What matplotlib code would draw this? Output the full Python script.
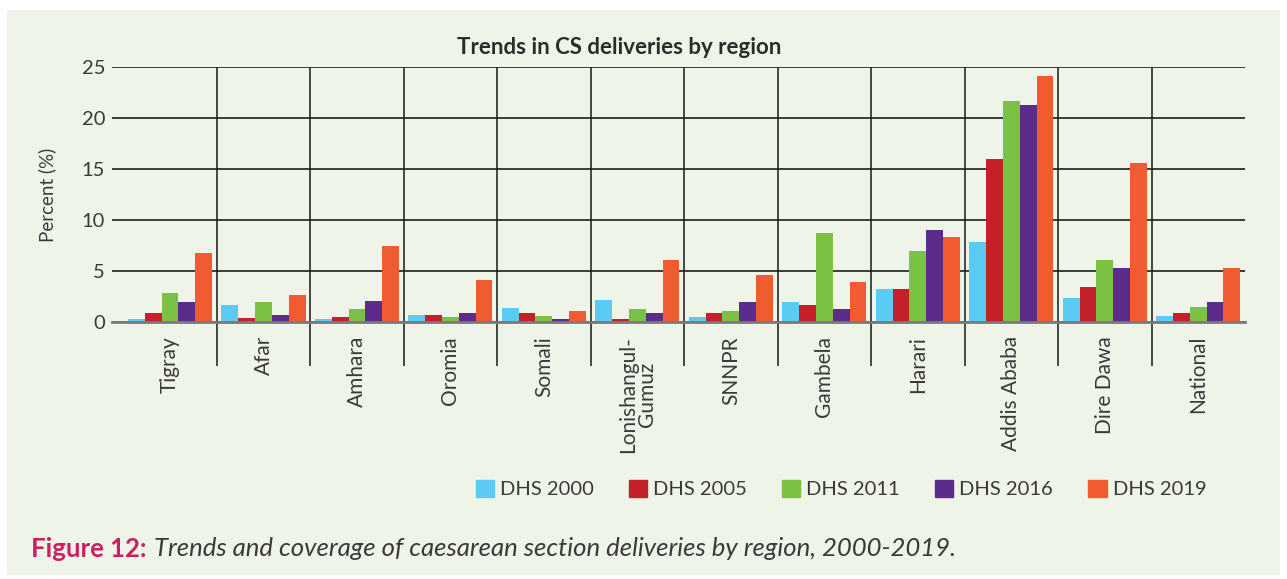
import numpy as np
import matplotlib
matplotlib.use('Agg')
from matplotlib import pyplot as plt
from matplotlib import patches as mpatches

regions = ['Tigray', 'Afar', 'Amhara', 'Oromia', 'Somali', 'Lonishangul-\nGumuz',
           'SNNPR', 'Gambela', 'Harari', 'Addis Ababa', 'Dire Dawa', 'National']
surveys = ['DHS 2000', 'DHS 2005', 'DHS 2011', 'DHS 2016', 'DHS 2019']
dhs_2000 = [0.3, 1.7, 0.3, 0.7, 1.4, 2.2, 0.5, 2.0, 3.2, 7.8, 2.4, 0.6]
dhs_2005 = [0.9, 0.4, 0.5, 0.7, 0.9, 0.3, 0.9, 1.7, 3.2, 16.0, 3.4, 0.9]
dhs_2011 = [2.8, 2.0, 1.3, 0.5, 0.6, 1.3, 1.1, 8.7, 7.0, 21.7, 6.1, 1.5]
dhs_2016 = [2.0, 0.7, 2.1, 0.9, 0.3, 0.9, 2.0, 1.3, 9.0, 21.3, 5.3, 2.0]
dhs_2019 = [6.8, 2.6, 7.5, 4.1, 1.1, 6.1, 4.6, 3.9, 8.3, 24.1, 15.6, 5.3]

colours = ['#5bcbf5', '#c4202a', '#7bc144', '#5b2c8c', '#f05b31']
bg = '#eff4e9'
txt = '#3a3a3a'

plt.rcParams['font.family'] = ['Lato', 'DejaVu Sans']

fig = plt.figure(figsize=(12.87, 5.79), dpi=100)
fig.patches.append(mpatches.Rectangle((7 / 1287, 4 / 579), 1273 / 1287, 565 / 579,
                                      transform=fig.transFigure, facecolor=bg,
                                      edgecolor='none', zorder=-10))
axe = fig.add_axes([112 / 1287, 1 - 322 / 579, 1133 / 1287, 255 / 579])
axe.set_facecolor(bg)

x = np.arange(len(regions))
w = 0.18
series = [dhs_2000, dhs_2005, dhs_2011, dhs_2016, dhs_2019]
for i, vals in enumerate(series):
    axe.bar(x + (i - 2) * w, vals, width=w, color=colours[i], label=surveys[i],
            zorder=3)

axe.set_xlim(-0.62, len(regions) - 0.5)
axe.set_ylim(0, 25)
axe.set_yticks(range(0, 26, 5))
axe.tick_params(axis='y', length=0, pad=5, labelsize=14.5, labelcolor=txt)
axe.yaxis.grid(True, color='#1e1e1e', lw=1.2, zorder=0)

axe.set_xticks(x)
axe.set_xticklabels(regions, rotation=90, va='top', ha='center',
                    fontsize=15, color=txt, linespacing=0.9)
axe.tick_params(axis='x', length=0, pad=10)
axe.set_xticks(np.arange(0.5, len(regions) - 1, 1), minor=True)
axe.tick_params(axis='x', which='minor', length=32, width=1.2, color='#2a2a2a',
                direction='out')
axe.xaxis.grid(True, which='minor', color='#2a2a2a', lw=1.2, zorder=0)

for s in ['top', 'right', 'left']:
    axe.spines[s].set_visible(False)
axe.spines['bottom'].set_color('#7a7a7a')
axe.spines['bottom'].set_linewidth(2)
axe.spines['bottom'].set_zorder(4)

axe.set_ylabel('Percent (%)', fontsize=13.5, color=txt, labelpad=18)
fig.text(619 / 1287, 1 - 48 / 579, 'Trends in CS deliveries by region',
         fontsize=16, fontweight='bold', color='#2b2b2b', ha='center', va='center')

patch = [mpatches.Patch(color=colours[i], label=surveys[i]) for i in range(5)]
fig.legend(handles=patch, loc='center', bbox_to_anchor=(841 / 1287, 1 - 489 / 579),
           ncol=5, frameon=False, fontsize=14.5, handlelength=0.9, handleheight=0.9,
           handletextpad=0.3, columnspacing=1.75, labelcolor=txt)

# caption: bold figure number followed by italic description
fig.canvas.draw()
r = fig.canvas.get_renderer()
cap = fig.text(31 / 1287, 1 - 549 / 579, 'Figure 12:', fontsize=18.5,
               fontweight='bold', color='#cc1f63', va='center')
bb = cap.get_window_extent(renderer=r)
fig.text((bb.x1 + 8) / 1287, 1 - 549 / 579,
         'Trends and coverage of caesarean section deliveries by region, 2000-2019.',
         fontsize=18.5, style='italic', color=txt, va='center')

plt.savefig('out.png', dpi=100)
